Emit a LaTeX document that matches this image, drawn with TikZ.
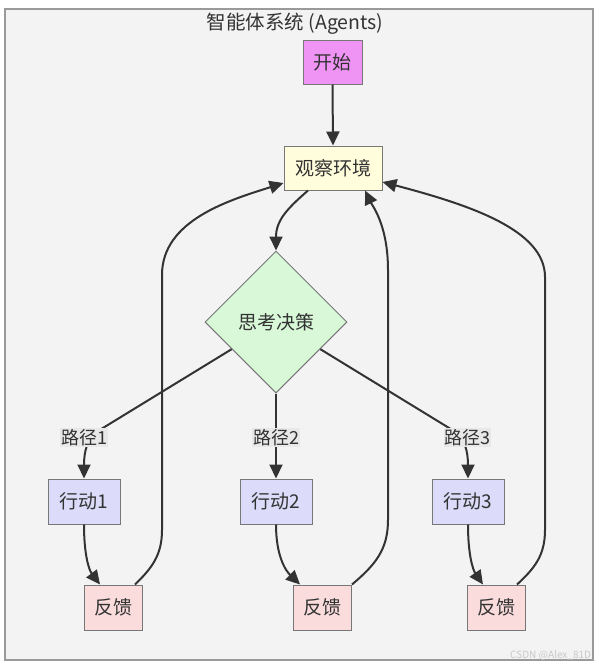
\documentclass[tikz,border=0pt]{standalone}
\usepackage{fontspec}
\setmainfont{Noto Sans CJK SC}
\usetikzlibrary{shapes.geometric,arrows.meta,calc}
\definecolor{framefill}{HTML}{F3F3F3}
\definecolor{framedraw}{HTML}{9A9A9A}
\definecolor{startfill}{HTML}{EF93F5}
\definecolor{obsfill}{HTML}{FFFDDC}
\definecolor{thinkfill}{HTML}{D8F8D8}
\definecolor{actfill}{HTML}{DCDCFA}
\definecolor{fbfill}{HTML}{FADCDC}
\definecolor{boxdraw}{HTML}{777777}
\definecolor{ink}{HTML}{333333}
\definecolor{labelbg}{HTML}{E8E8E8}
\definecolor{wm}{HTML}{C8C8C8}
\tikzset{
  boxbase/.style={draw=boxdraw, line width=1pt, inner sep=0pt, minimum height=45pt, text=ink, font=\fontsize{19}{22}\selectfont},
  startbox/.style={boxbase, fill=startfill, minimum width=59pt, minimum height=44pt},
  obsbox/.style={boxbase, fill=obsfill, minimum width=98pt, minimum height=44pt},
  thinkbox/.style={diamond, aspect=1, draw=boxdraw, line width=1pt, fill=thinkfill, inner sep=0pt, minimum width=142pt, minimum height=142pt, text=ink, font=\fontsize{19}{22}\selectfont},
  actbox/.style={boxbase, fill=actfill, minimum width=72pt},
  fbbox/.style={boxbase, fill=fbfill, minimum width=58pt},
  edgelabel/.style={fill=labelbg, inner xsep=1pt, inner ysep=1.5pt, text=ink, font=\fontsize{18}{20}\selectfont},
  conn/.style={draw=ink, line width=2pt, -{Triangle[length=14pt,width=13pt]}},
}
\begin{document}
\begin{tikzpicture}[x=1pt,y=1pt]
\useasboundingbox (0,0) rectangle (599,-667);
\fill[white] (0,0) rectangle (599,-667);
\draw[draw=framedraw, fill=framefill, line width=1.2pt] (5,-9) rectangle (593,-660);
\node[text=ink, font=\fontsize{19.5}{22}\selectfont] (title) at (295,-24) {智能体系统 (Agents)};

\node[startbox] (start) at (332.5,-62) {开始};
\node[obsbox] (obs) at (333,-168) {观察环境};
\node[thinkbox] (think) at (276,-322) {思考决策};
\node[actbox] (act1) at (84,-501.5) {行动1};
\node[actbox] (act2) at (276,-501.5) {行动2};
\node[actbox] (act3) at (468,-501.5) {行动3};
\node[fbbox] (fb1) at (113,-607.5) {反馈};
\node[fbbox] (fb2) at (322.5,-607.5) {反馈};
\node[fbbox] (fb3) at (496.5,-607.5) {反馈};

% start -> observe
\draw[conn] (start.south) -- (obs.north);
% observe -> think
\draw[conn] ($(obs.south)+(-25,0)$) .. controls (288,-208) and (276,-220) .. (think.north);
% think -> actions
\draw[conn] ($(think.west)!0.38!(think.south)$) -- (98,-431) .. controls (87,-438) and (84,-452) .. (act1.north);
\draw[conn] (think.south) -- (act2.north);
\draw[conn] ($(think.east)!0.38!(think.south)$) -- (454,-431) .. controls (465,-438) and (468,-452) .. (act3.north);
\node[edgelabel] (l1) at (84,-437.5) {路径1};
\node[edgelabel] (l2) at (276,-437.5) {路径2};
\node[edgelabel] (l3) at (467.5,-437.5) {路径3};
% actions -> feedback
\draw[conn] (act1.south) .. controls (84,-555) and (89,-570) .. ($(fb1.north)+(-13,0)$);
\draw[conn] (act2.south) .. controls (276,-555) and (285,-570) .. ($(fb2.north)+(-22.5,0)$);
\draw[conn] (act3.south) .. controls (468,-555) and (473,-570) .. ($(fb3.north)+(-13.5,0)$);
% feedback -> observe
\draw[conn] ($(fb1.north)+(22,0)$) .. controls (152,-568) and (162,-555) .. (162,-530) -- (162,-275) .. controls (162,-220) and (230,-200) .. ($(obs.west)+(0,-15)$);
\draw[conn] (fb2.north east) .. controls (375,-565) and (388,-550) .. (388,-520) -- (388,-270) .. controls (388,-225) and (372,-205) .. ($(obs.south)+(32,0)$);
\draw[conn] ($(fb3.north)+(20.5,0)$) .. controls (535,-568) and (545,-555) .. (545,-530) -- (545,-277) .. controls (545,-230) and (470,-205) .. ($(obs.east)+(0,-14)$);

\node[anchor=west, text=wm, font=\fontsize{10}{11}\selectfont, inner sep=0pt] (wmark) at (510,-655) {CSDN @Alex\_81D};
\end{tikzpicture}
\end{document}
